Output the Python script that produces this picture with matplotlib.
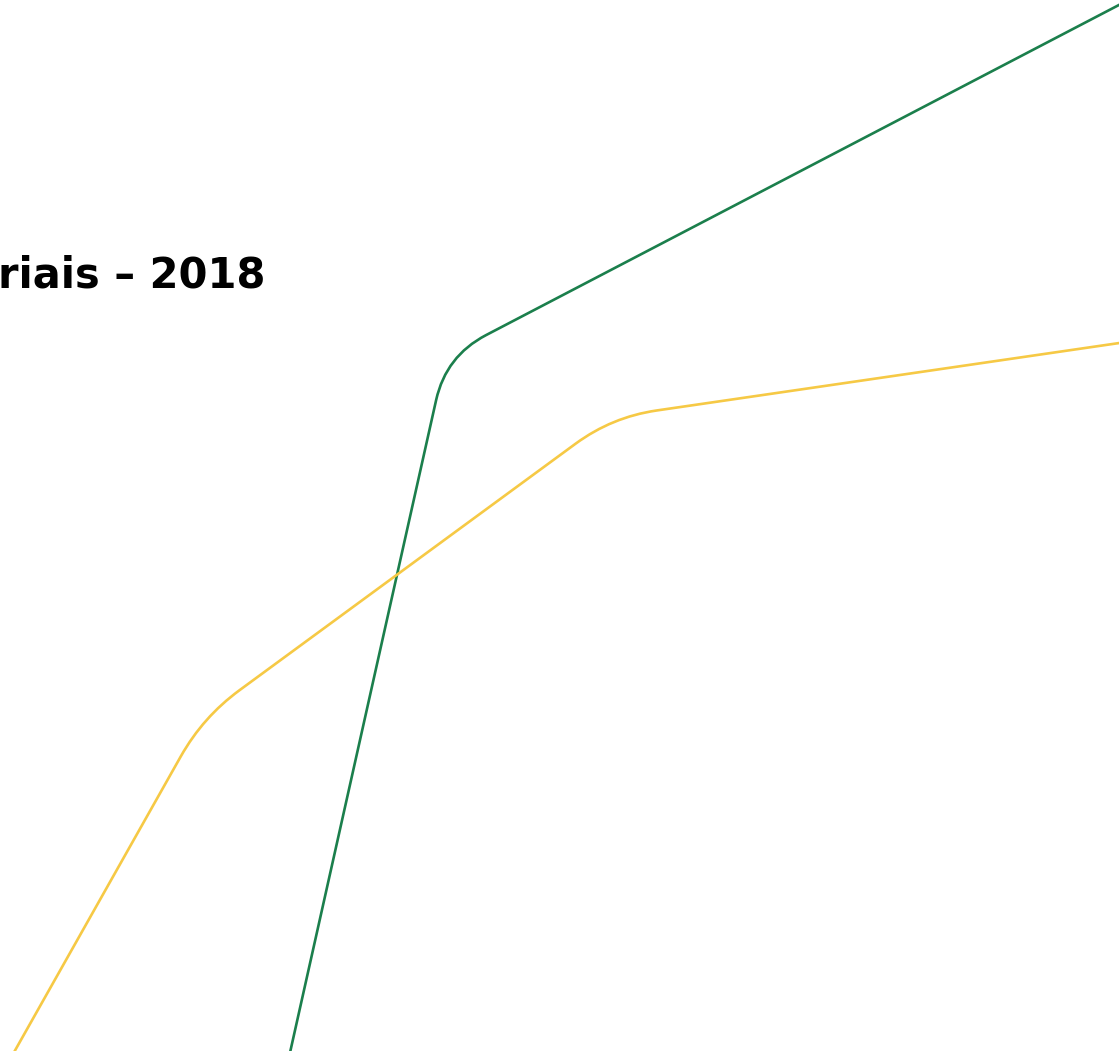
import matplotlib.pyplot as plt
from matplotlib.path import Path
from matplotlib.patches import PathPatch
import numpy as np

# visible part of the chart (cropped), values in chart units
green_x = [285, 446, 1140]
green_y = [-24, 695, 1057]
yellow_x = [-5, 203, 612, 1140]
yellow_y = [-35, 334, 634, 711]

title = "riais \u2013 2018"


def rounded_path(xs, ys, r):
    pts = np.column_stack([xs, ys]).astype(float)
    verts = [pts[0]]
    codes = [Path.MOVETO]
    for i in range(1, len(pts) - 1):
        p, c, n = pts[i - 1], pts[i], pts[i + 1]
        a = c + (p - c) / np.linalg.norm(p - c) * r
        b = c + (n - c) / np.linalg.norm(n - c) * r
        verts += [a, c, b]
        codes += [Path.LINETO, Path.CURVE3, Path.CURVE3]
    verts.append(pts[-1])
    codes.append(Path.LINETO)
    return Path(verts, codes)


fig = plt.figure(figsize=(11.19, 10.51), dpi=100)
ax = fig.add_axes([0, 0, 1, 1])
ax.set_xlim(0, 1119)
ax.set_ylim(0, 1051)
ax.axis('off')

ax.add_patch(PathPatch(rounded_path(green_x, green_y, 45), fill=False,
                       edgecolor='#1b7f4c', lw=1.9, capstyle='round'))
ax.add_patch(PathPatch(rounded_path(yellow_x, yellow_y, 45), fill=False,
                       edgecolor='#f6c945', lw=1.9, capstyle='round'))

fig.text(266 / 1119, 1 - 288 / 1051, title, ha='right', va='baseline',
         fontsize=30, fontweight='bold', family='DejaVu Sans', color='black')

fig.savefig('out.png', dpi=100)
